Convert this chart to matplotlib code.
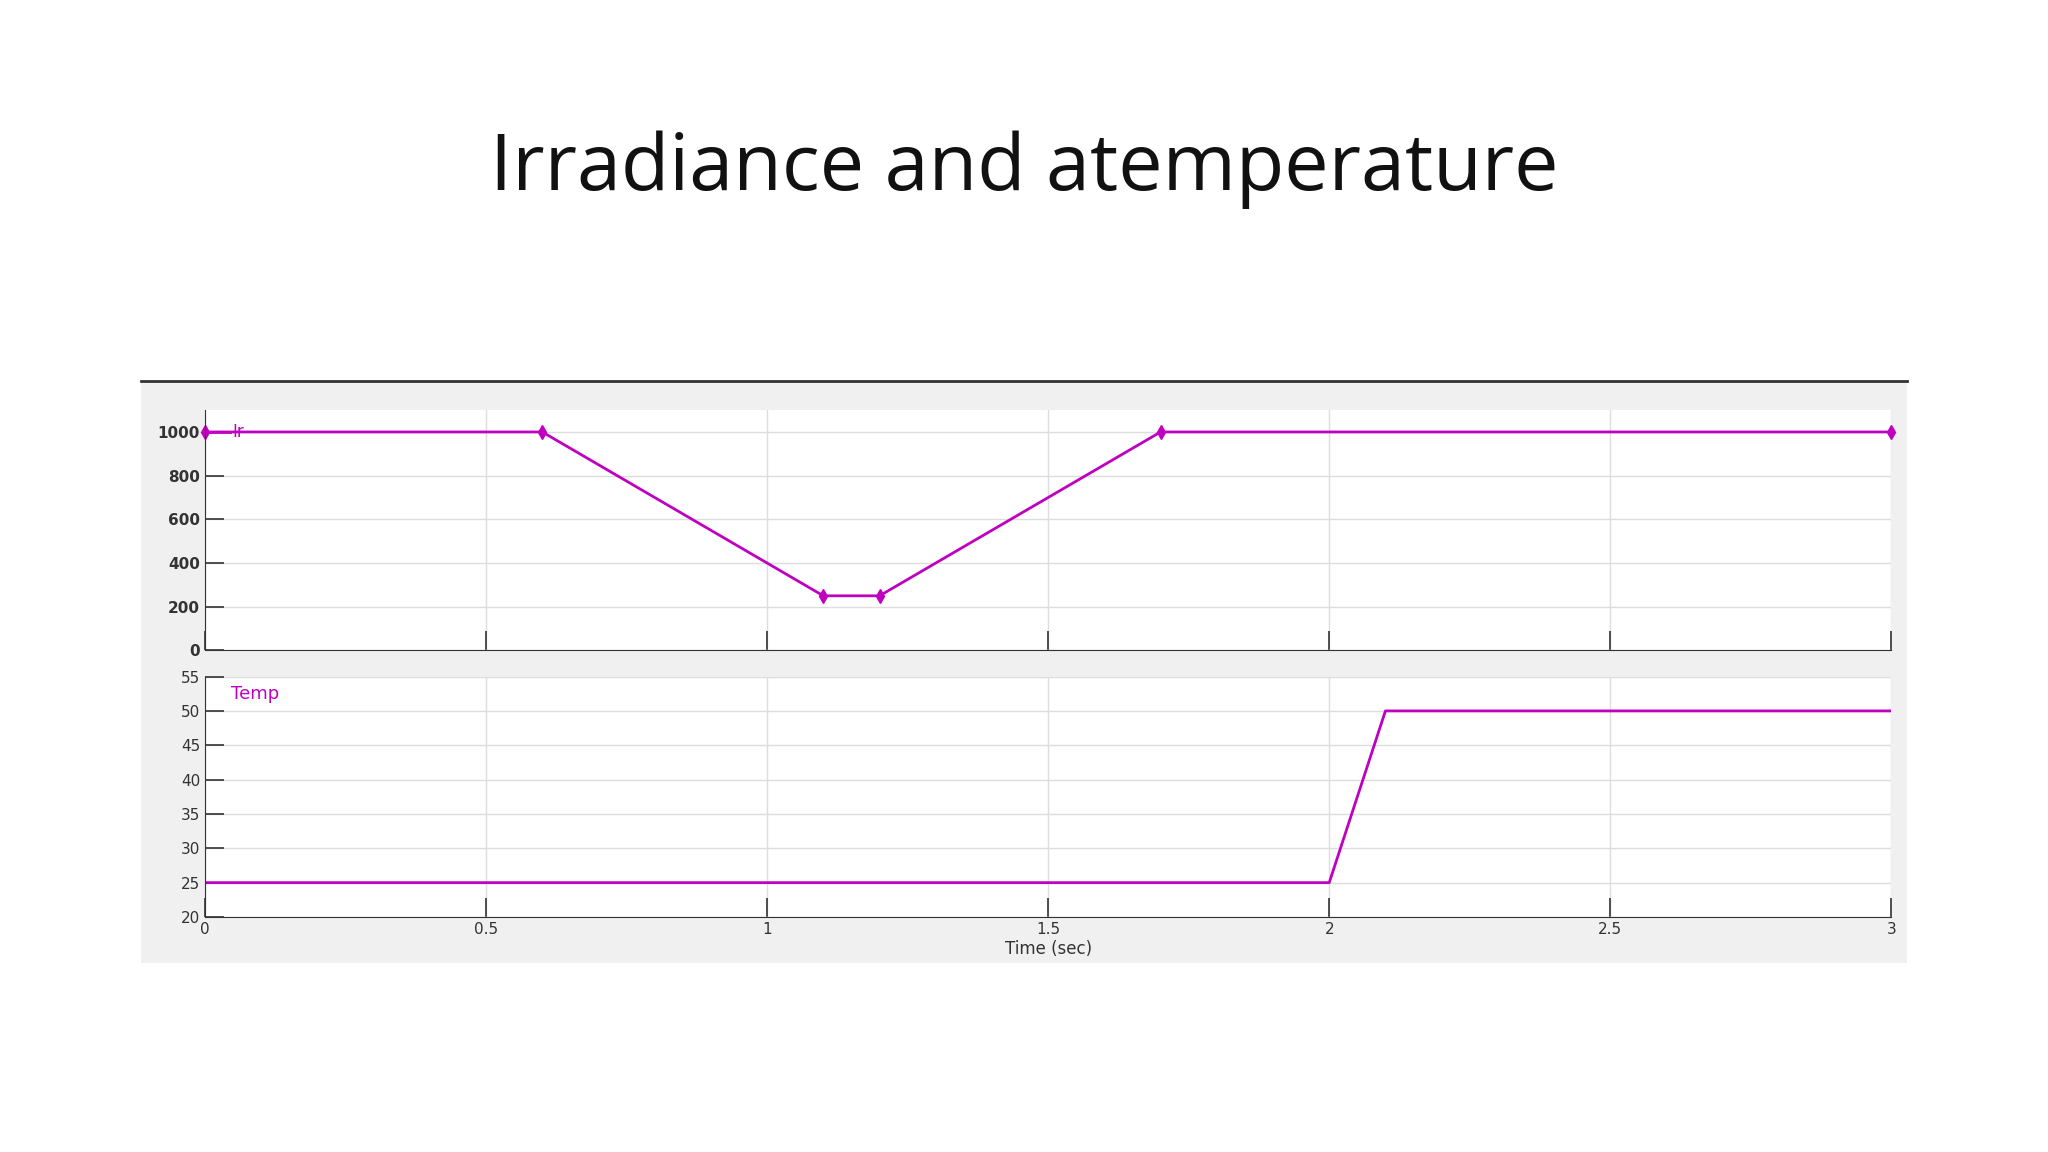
import matplotlib
matplotlib.use("Agg")
import matplotlib.pyplot as plt

# irradiance profile (W/m2) and temperature profile (degC)
ir_t = [0, 0.6, 1.1, 1.2, 1.7, 3.0]
ir_val = [1000, 1000, 250, 250, 1000, 1000]
temp_t = [0, 2.0, 2.1, 3.0]
temp_val = [25, 25, 50, 50]

x_ticks = [0, 0.5, 1, 1.5, 2, 2.5, 3]
x_labels = ["0", "0.5", "1", "1.5", "2", "2.5", "3"]
ir_ticks = [0, 200, 400, 600, 800, 1000]
temp_ticks = [20, 25, 30, 35, 40, 45, 50, 55]

MAG = "#c000c0"

fig = plt.figure(figsize=(20.48, 11.52), dpi=100)
fig.text(0.5, 0.853, "Irradiance and atemperature", ha="center", va="center",
         fontsize=57, family="Open Sans", color="#111111")

# grey scope panel behind the two plots, dark line on top
bg = fig.add_axes([0.069, 0.164, 0.862, 0.505], zorder=-1)
bg.set_facecolor("#f0f0f0")
bg.set_xticks([])
bg.set_yticks([])
for s in ("left", "right", "bottom"):
    bg.spines[s].set_visible(False)
bg.spines["top"].set_color("#333333")
bg.spines["top"].set_linewidth(2)


def style(ax):
    ax.set_facecolor("white")
    for s in ("top", "right"):
        ax.spines[s].set_visible(False)
    for s in ("left", "bottom"):
        ax.spines[s].set_color("#333333")
    ax.grid(True, color="#dddddd", lw=1)
    ax.set_axisbelow(True)
    ax.set_xlim(0, 3)
    ax.set_xticks(x_ticks)
    ax.tick_params(direction="in", length=14, width=1.2, color="#333333",
                   labelsize=11, labelcolor="#333333")


ax1 = fig.add_axes([0.1001, 0.4354, 0.8234, 0.2086])
style(ax1)
ax1.plot(ir_t, ir_val, color=MAG, lw=2, marker="d", ms=7, clip_on=False)
ax1.set_ylim(0, 1100)
ax1.set_yticks(ir_ticks)
ax1.set_yticklabels([str(v) for v in ir_ticks], fontweight="bold")
ax1.set_xticklabels([])
ax1.plot([0.0, 0.045], [1000, 1000], color=MAG, lw=2)
ax1.text(0.048, 1000, "Ir", color=MAG, fontsize=12, va="center")

ax2 = fig.add_axes([0.1001, 0.204, 0.8234, 0.2087])
style(ax2)
ax2.plot(temp_t, temp_val, color=MAG, lw=2)
ax2.set_ylim(20, 55)
ax2.set_yticks(temp_ticks)
ax2.set_xticklabels(x_labels)
ax2.set_xlabel("Time (sec)", fontsize=12, color="#333333", labelpad=2)
ax2.text(0.047, 52.5, "Temp", color=MAG, fontsize=13, va="center")

fig.savefig("out.png", dpi=100)
